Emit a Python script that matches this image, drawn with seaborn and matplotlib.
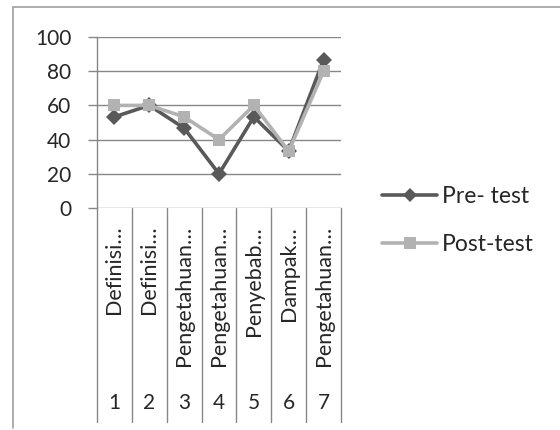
import matplotlib
matplotlib.use("Agg")
import matplotlib.pyplot as plt
import matplotlib.transforms as mtransforms
from matplotlib.lines import Line2D
import numpy as np
import pandas as pd
import seaborn as sns

# Item numbers and (truncated) item names on the category axis
item_numbers = ["1", "2", "3", "4", "5", "6", "7"]
item_names = ["Definisi…", "Definisi…", "Pengetahuan…", "Pengetahuan…",
              "Penyebab…", "Dampak…", "Pengetahuan…"]

# Scores per item
pre_test = [53.3, 60.0, 46.7, 20.0, 53.3, 33.3, 86.7]
post_test = [60.0, 60.0, 53.3, 40.0, 60.0, 33.3, 80.0]

series_names = ["Pre- test", "Post-test"]
y_ticks = [0, 20, 40, 60, 80, 100]

sns.set_style("white")
plt.rcParams["font.family"] = ["Lato", "DejaVu Sans"]

FS = 15
GRID = "#878787"
DARK = "#595959"
LIGHT = "#b2b2b2"

positions = np.arange(len(item_numbers))
df = pd.DataFrame({
    "pos": np.concatenate([positions, positions]),
    "score": pre_test + post_test,
    "test": [series_names[0]] * len(pre_test) + [series_names[1]] * len(post_test),
})

fig = plt.figure(figsize=(5.6, 4.3), dpi=100)
ax = fig.add_axes([97 / 560, 1 - 208 / 430, (341 - 97) / 560, (208 - 37) / 430])

sns.lineplot(data=df, x="pos", y="score", hue="test", style="test",
             hue_order=series_names, style_order=series_names,
             palette={series_names[0]: DARK, series_names[1]: LIGHT},
             markers={series_names[0]: "D", series_names[1]: "s"},
             dashes=False, linewidth=2.6, markersize=8, markeredgewidth=0,
             legend=False, ax=ax, zorder=3)

ax.set_xlim(-0.5, len(item_numbers) - 0.5)
ax.set_ylim(0, 100)
ax.set_yticks(y_ticks)
ax.set_yticklabels([str(t) for t in y_ticks], fontsize=FS)
ax.set_xticks([])
ax.set_xlabel("")
ax.set_ylabel("")
ax.grid(axis="y", color=GRID, linewidth=1)
for side in ["top", "right", "bottom"]:
    ax.spines[side].set_visible(False)
ax.spines["left"].set_color(GRID)
ax.spines["left"].set_linewidth(1)
ax.tick_params(axis="y", length=6.5, width=1, color=GRID, pad=12, left=True)

# Multi-level category axis: names (rotated) above numbers, with separators
trans = mtransforms.blended_transform_factory(ax.transData, ax.transAxes)
for i in range(len(item_numbers) + 1):
    ax.add_line(Line2D([i - 0.5, i - 0.5], [0, -1.25], transform=trans,
                       color=GRID, linewidth=1, clip_on=False))
for p, name, num in zip(positions, item_names, item_numbers):
    ax.text(p, -0.105, name, transform=trans, rotation=90, ha="center",
            va="top", fontsize=15.5, clip_on=False)
    ax.text(p, -1.14, num, transform=trans, ha="center", va="center",
            fontsize=FS, clip_on=False)

handles = [
    Line2D([], [], color=DARK, marker="D", linewidth=2.6, markersize=7.5, markeredgewidth=0),
    Line2D([], [], color=LIGHT, marker="s", linewidth=2.6, markersize=8, markeredgewidth=0),
]
fig.legend(handles, series_names, loc="upper left",
           bbox_to_anchor=(382 / 560, 1 - 186 / 430), frameon=False,
           fontsize=16.5, handlelength=2.4, handletextpad=0.22, labelspacing=1.2,
           borderaxespad=0, borderpad=0)

# Outer chart frame (left and top edges)
fig.add_artist(Line2D([13 / 560, 13 / 560], [1 - 428 / 430, 1 - 7 / 430],
                      transform=fig.transFigure, color="#a0a0a0", linewidth=1.2))
fig.add_artist(Line2D([13 / 560, 1.0], [1 - 7 / 430, 1 - 7 / 430],
                      transform=fig.transFigure, color="#a0a0a0", linewidth=1.2))

fig.savefig("out.png", dpi=100, facecolor="white")
